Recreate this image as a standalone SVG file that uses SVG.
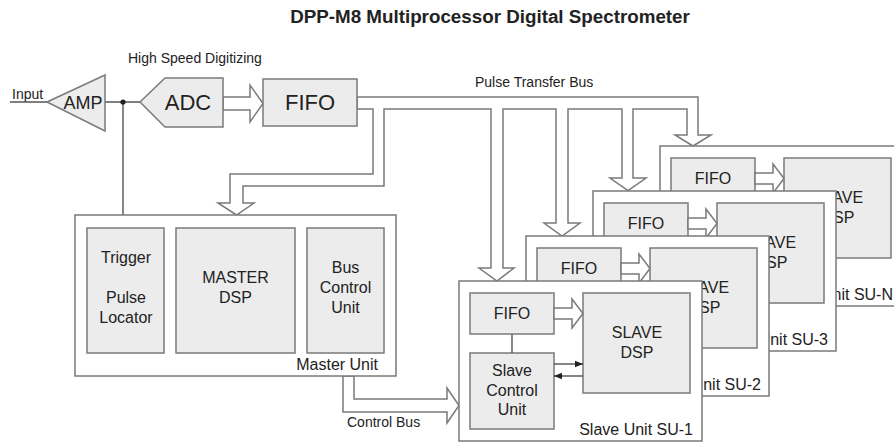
<svg xmlns="http://www.w3.org/2000/svg" xmlns:xlink="http://www.w3.org/1999/xlink" width="894" height="442" viewBox="0 0 894 442">
  <style>
    text { font-family: "Liberation Sans", Arial, sans-serif; fill: #222; }
    .title { font-size: 18.8px; font-weight: bold; }
    .lbl { font-size: 14px; }
    .in { font-size: 16px; text-anchor: middle; }
    .unit { fill: #fff; stroke: #7a7a7a; stroke-width: 1.5; }
    .blk { fill: #ececec; stroke: #7a7a7a; stroke-width: 1.5; }
    .bus { fill: #fff; stroke: #7a7a7a; stroke-width: 1.5; stroke-linejoin: miter; }
    .wire { fill: none; stroke: #555; stroke-width: 1.4; }
    .sig { fill: none; stroke: #333; stroke-width: 1.2; }
  </style>
  <defs>
    <marker id="tip" viewBox="0 0 8 8" refX="8" refY="4" markerWidth="8" markerHeight="8" markerUnits="userSpaceOnUse" orient="auto">
      <path d="M0,0.8 L8,4 L0,7.2 Z" fill="#222"/>
    </marker>
    <!-- common body of a slave unit, drawn at its own origin -->
    <g id="slave-body">
      <rect class="unit" x="0" y="0" width="243" height="160"/>
      <rect class="blk" x="11" y="12" width="84" height="41"/>
      <rect class="blk" x="124" y="12" width="107" height="100"/>
      <rect class="blk" x="11" y="72" width="84" height="76"/>
      <line class="wire" x1="53" y1="53" x2="53" y2="72"/>
      <polygon class="bus" points="95,27 113,27 113,18 124,32.5 113,47 113,38 95,38"/>
      <line class="sig" x1="95" y1="83" x2="124" y2="83" marker-end="url(#tip)"/>
      <line class="sig" x1="124" y1="95" x2="95" y2="95" marker-end="url(#tip)"/>
      <text class="in" x="53" y="38">FIFO</text>
      <text class="in" x="178" y="57">SLAVE</text>
      <text class="in" x="178" y="77">DSP</text>
      <text class="in" x="53" y="95">Slave</text>
      <text class="in" x="53" y="115">Control</text>
      <text class="in" x="53" y="134">Unit</text>
    </g>
  </defs>

  <rect width="894" height="442" fill="#fff"/>

  <text class="title" x="490" y="23" text-anchor="middle">DPP-M8 Multiprocessor Digital Spectrometer</text>
  <text class="lbl" x="128" y="63">High Speed Digitizing</text>
  <text class="lbl" x="12" y="99">Input</text>
  <text class="lbl" x="475" y="87">Pulse Transfer Bus</text>
  <text class="lbl" x="347" y="427">Control Bus</text>

  <g id="connectors">
    <!-- analog input and trigger tap -->
    <line class="wire" x1="10" y1="102" x2="47" y2="102"/>
    <line class="wire" x1="105" y1="102" x2="140" y2="102"/>
    <line class="wire" x1="123" y1="102" x2="123" y2="215"/>
    <circle cx="123" cy="102" r="2.6" fill="#222"/>
    <!-- ADC to FIFO data path -->
    <polygon class="bus" points="223,97 250,97 250,85 263,103.5 250,122 250,110 223,110"/>
    <!-- pulse transfer bus with its branches -->
    <polygon class="bus" points="357,97 698,97 698,135 711,135 693,146 675,135 687,135 687,109 633,109 633,178 646,178 628,190.5 610,178 622,178 622,109 568,109 568,223 580,223 562,236 544,223 556,223 556,109 503,109 503,268 514,268 497,281 479,268 491,268 491,109 384,109 384,186 243,186 243,203 254,203 236.5,215 218,203 230,203 230,174 373,174 373,109 357,109"/>
    <!-- control bus -->
    <polygon class="bus" points="343,376 343,412 447,412 447,423 459,405.5 447,388 447,399 354,399 354,376"/>
  </g>

  <g id="amp">
    <polygon class="blk" points="47,102 105,75 105,131"/>
    <text x="83" y="108.5" font-size="18" text-anchor="middle">AMP</text>
  </g>

  <g id="adc">
    <polygon class="blk" points="140,102 165,78 223,78 223,127 165,127"/>
    <text x="188" y="110" font-size="22" text-anchor="middle">ADC</text>
  </g>

  <g id="fifo">
    <rect class="blk" x="263" y="79" width="94" height="47"/>
    <text x="310" y="110" font-size="22" text-anchor="middle">FIFO</text>
  </g>

  <g id="master-unit">
    <rect class="unit" x="75" y="215" width="321" height="161"/>
    <g id="trigger-locator">
      <rect class="blk" x="87" y="228" width="77" height="125"/>
      <text class="in" x="126" y="263">Trigger</text>
      <text class="in" x="126" y="303">Pulse</text>
      <text class="in" x="126" y="323">Locator</text>
    </g>
    <g id="master-dsp">
      <rect class="blk" x="176" y="228" width="119" height="125"/>
      <text class="in" x="235.5" y="283">MASTER</text>
      <text class="in" x="235.5" y="303">DSP</text>
    </g>
    <g id="bus-control">
      <rect class="blk" x="307" y="228" width="77" height="125"/>
      <text class="in" x="345.5" y="273">Bus</text>
      <text class="in" x="345.5" y="293">Control</text>
      <text class="in" x="345.5" y="313">Unit</text>
    </g>
    <text x="378" y="370" font-size="16" text-anchor="end">Master Unit</text>
  </g>

  <!-- slave units, back to front -->
  <g id="slave-su-n" transform="translate(660,146)">
    <use xlink:href="#slave-body"/>
    <text x="233" y="154" font-size="16" text-anchor="end">Slave Unit SU-N</text>
  </g>
  <g id="slave-su-3" transform="translate(593,191)">
    <use xlink:href="#slave-body"/>
    <text x="235" y="154" font-size="16" text-anchor="end">Slave Unit SU-3</text>
  </g>
  <g id="slave-su-2" transform="translate(526,236)">
    <use xlink:href="#slave-body"/>
    <text x="235" y="154" font-size="16" text-anchor="end">Slave Unit SU-2</text>
  </g>
  <g id="slave-su-1" transform="translate(459,281)">
    <use xlink:href="#slave-body"/>
    <text x="234" y="154" font-size="16" text-anchor="end">Slave Unit SU-1</text>
  </g>
</svg>
